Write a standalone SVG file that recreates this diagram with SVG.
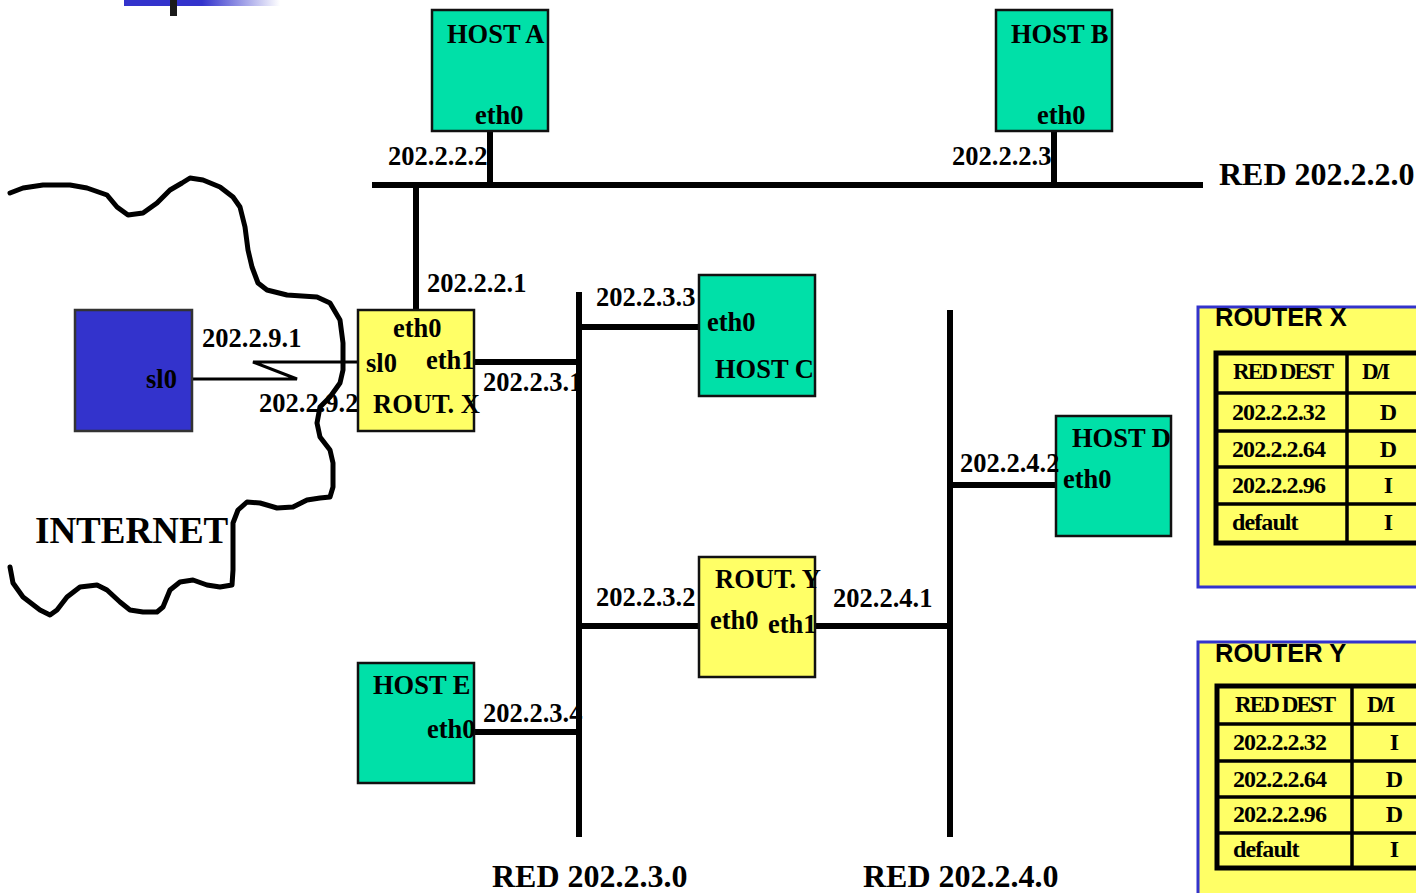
<svg xmlns="http://www.w3.org/2000/svg" width="1416" height="893" viewBox="0 0 1416 893">
<defs>
<linearGradient id="topbar" x1="124" y1="0" x2="280" y2="0" gradientUnits="userSpaceOnUse">
<stop offset="0" stop-color="#3333CC"/>
<stop offset="0.5" stop-color="#3333CC"/>
<stop offset="1" stop-color="#FFFFFF"/>
</linearGradient>
<style>
text{font-family:"Liberation Serif","Times New Roman",serif;font-weight:bold;fill:#000}
.lbl{font-size:26.5px}
.big{font-size:32px}
.host{fill:#00E0A8;stroke:#111;stroke-width:2.5}
.rout{fill:#FFFF66;stroke:#111;stroke-width:2.5}
.bus{stroke:#000;stroke-width:6;fill:none}
.thin{stroke:#000;stroke-width:3;fill:none}
.panel{fill:#FFFF66;stroke:#3333CC;stroke-width:3}
.tbl{fill:none;stroke:#000;stroke-width:5}
.tline{stroke:#000;stroke-width:3.5}
.ttl{font-family:"Liberation Sans",Arial,sans-serif;font-size:25.5px}
.tt{font-size:24px;letter-spacing:-0.9px}
.th{font-size:23px;letter-spacing:-1.9px}
</style>
</defs>
<rect width="1416" height="893" fill="#FFFFFF"/>
<rect x="124" y="0" width="156" height="6" fill="url(#topbar)"/>
<rect x="170" y="0" width="7" height="16" fill="#1a1a1a"/>

<g id="cloud">
<path d="M10,193 L23,188 L43,185 L70,185 L87,188 L107,195 L117,207 L128,215 L143,213 L157,203 L170,190 L182,183 L190,178 L203,180 L220,187 L233,197 L240,207 L245,227 L248,250 L252,267 L258,283 L267,290 L287,295 L317,297 L330,303 L340,320 L343,343 L343,370 L340,383 L330,397 L320,407 L317,423 L320,437 L330,450 L333,463 L333,487 L330,497 L320,498 L307,500 L293,507 L277,508 L260,503 L247,502 L238,510 L233,523 L233,543 L233,570 L232,585 L220,587 L207,585 L193,580 L180,582 L170,590 L163,607 L157,612 L143,612 L130,610 L120,602 L107,590 L97,585 L80,587 L67,597 L57,610 L50,615 L40,610 L23,597 L13,583 L10,567" fill="none" stroke="#000" stroke-width="5" stroke-linejoin="round" stroke-linecap="round"/>
<text x="35" y="543" style="font-size:37px">INTERNET</text>
</g>

<g id="connectors">
<line class="bus" x1="372" y1="185" x2="1203" y2="185"/>
<line class="bus" x1="490" y1="131" x2="490" y2="185"/>
<line class="bus" x1="1054" y1="131" x2="1054" y2="185"/>
<line class="bus" x1="416" y1="185" x2="416" y2="310"/>
<line class="bus" x1="579" y1="292" x2="579" y2="837"/>
<line class="bus" x1="950" y1="310" x2="950" y2="837"/>
<line class="bus" x1="475" y1="362" x2="579" y2="362"/>
<line class="bus" x1="579" y1="327" x2="699" y2="327"/>
<line class="bus" x1="579" y1="626" x2="699" y2="626"/>
<line class="bus" x1="816" y1="626" x2="950" y2="626"/>
<line class="bus" x1="950" y1="485" x2="1055" y2="485"/>
<line class="bus" x1="475" y1="732" x2="579" y2="732"/>
<polyline class="thin" points="193,379 297,379 253,362 358,362"/>
</g>

<g id="host-a">
<rect class="host" x="432" y="10" width="116" height="121"/>
<text class="lbl" x="447" y="43">HOST A</text>
<text class="lbl" x="475" y="124">eth0</text>
<text class="lbl" x="388" y="165">202.2.2.2</text>
</g>
<g id="host-b">
<rect class="host" x="996" y="10" width="116" height="121"/>
<text class="lbl" x="1011" y="43">HOST B</text>
<text class="lbl" x="1037" y="124">eth0</text>
<text class="lbl" x="952" y="165">202.2.2.3</text>
</g>
<g id="red-202-2-2-0">
<text class="big" x="1219" y="185">RED 202.2.2.0</text>
</g>

<g id="internet-host">
<rect x="75" y="310" width="117" height="121" fill="#3333CC" stroke="#333" stroke-width="2.5"/>
<text class="lbl" x="146" y="388">sl0</text>
<text class="lbl" x="202" y="347">202.2.9.1</text>
<text class="lbl" x="259" y="412">202.2.9.2</text>
</g>

<g id="router-x">
<rect class="rout" x="358" y="310" width="116" height="121"/>
<text class="lbl" x="393" y="337">eth0</text>
<text class="lbl" x="366" y="372">sl0</text>
<text class="lbl" x="426" y="369">eth1</text>
<text class="lbl" x="373" y="413">ROUT. X</text>
<text class="lbl" x="427" y="292">202.2.2.1</text>
<text class="lbl" x="483" y="391">202.2.3.1</text>
</g>

<g id="host-c">
<rect class="host" x="699" y="275" width="116" height="121"/>
<text class="lbl" x="707" y="331">eth0</text>
<text class="lbl" x="715" y="378">HOST C</text>
<text class="lbl" x="596" y="306">202.2.3.3</text>
</g>

<g id="router-y">
<rect class="rout" x="699" y="557" width="116" height="120"/>
<text class="lbl" x="715" y="588">ROUT. Y</text>
<text class="lbl" x="710" y="629">eth0</text>
<text class="lbl" x="768" y="633">eth1</text>
<text class="lbl" x="596" y="606">202.2.3.2</text>
<text class="lbl" x="833" y="607">202.2.4.1</text>
</g>

<g id="host-d">
<rect class="host" x="1056" y="416" width="115" height="120"/>
<text class="lbl" x="1072" y="447">HOST D</text>
<text class="lbl" x="1063" y="488">eth0</text>
<text class="lbl" x="960" y="472">202.2.4.2</text>
</g>

<g id="host-e">
<rect class="host" x="358" y="663" width="116" height="120"/>
<text class="lbl" x="373" y="694">HOST E</text>
<text class="lbl" x="427" y="738">eth0</text>
<text class="lbl" x="483" y="722">202.2.3.4</text>
</g>

<g id="red-202-2-3-0">
<text class="big" x="492" y="887">RED 202.2.3.0</text>
</g>
<g id="red-202-2-4-0">
<text class="big" x="863" y="887">RED 202.2.4.0</text>
</g>

<g id="table-router-x">
<rect class="panel" x="1198" y="307" width="230" height="280"/>
<text class="ttl" x="1215" y="326">ROUTER X</text>
<rect class="tbl" x="1216" y="353" width="220" height="190"/>
<line class="tline" x1="1216" y1="393" x2="1420" y2="393"/>
<line class="tline" x1="1216" y1="431" x2="1420" y2="431"/>
<line class="tline" x1="1216" y1="467" x2="1420" y2="467"/>
<line class="tline" x1="1216" y1="504" x2="1420" y2="504"/>
<line class="tline" x1="1347" y1="353" x2="1347" y2="543"/>
<text class="th" x="1233" y="379">RED DEST</text>
<text class="th" x="1362" y="379">D/I</text>
<text class="tt" x="1232" y="420">202.2.2.32</text>
<text class="tt" x="1232" y="457">202.2.2.64</text>
<text class="tt" x="1232" y="493">202.2.2.96</text>
<text class="tt" x="1232" y="530">default</text>
<text class="tt" x="1388" y="420" text-anchor="middle">D</text>
<text class="tt" x="1388" y="457" text-anchor="middle">D</text>
<text class="tt" x="1388" y="493" text-anchor="middle">I</text>
<text class="tt" x="1388" y="530" text-anchor="middle">I</text>
</g>

<g id="table-router-y">
<rect class="panel" x="1198" y="642" width="230" height="270"/>
<text class="ttl" x="1215" y="662">ROUTER Y</text>
<rect class="tbl" x="1217" y="686" width="220" height="182"/>
<line class="tline" x1="1217" y1="724" x2="1420" y2="724"/>
<line class="tline" x1="1217" y1="761" x2="1420" y2="761"/>
<line class="tline" x1="1217" y1="797" x2="1420" y2="797"/>
<line class="tline" x1="1217" y1="833" x2="1420" y2="833"/>
<line class="tline" x1="1352" y1="686" x2="1352" y2="868"/>
<text class="th" x="1235" y="712">RED DEST</text>
<text class="th" x="1367" y="712">D/I</text>
<text class="tt" x="1233" y="750">202.2.2.32</text>
<text class="tt" x="1233" y="787">202.2.2.64</text>
<text class="tt" x="1233" y="822">202.2.2.96</text>
<text class="tt" x="1233" y="857">default</text>
<text class="tt" x="1394" y="750" text-anchor="middle">I</text>
<text class="tt" x="1394" y="787" text-anchor="middle">D</text>
<text class="tt" x="1394" y="822" text-anchor="middle">D</text>
<text class="tt" x="1394" y="857" text-anchor="middle">I</text>
</g>
</svg>
